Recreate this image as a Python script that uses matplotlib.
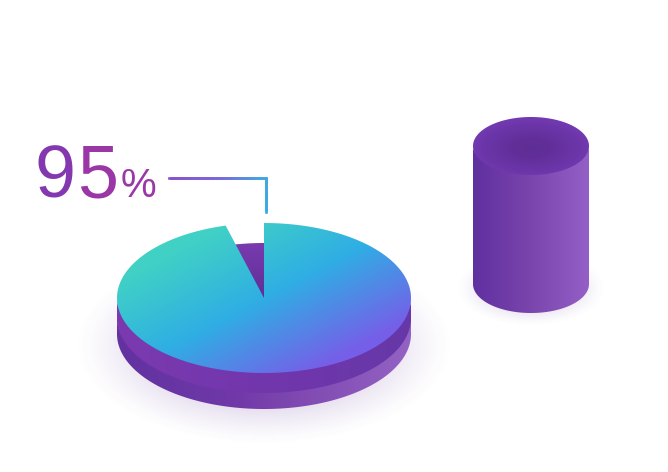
import numpy as np
import matplotlib
matplotlib.use("Agg")
import matplotlib.pyplot as plt
from matplotlib.collections import LineCollection
from matplotlib.colors import to_rgb
from matplotlib.patches import Polygon

# values
pie_label = "95"
pie_suffix = "%"
gap_share = 4.2          # the notch as drawn is a bit narrower than 5%

PIE_X, PIE_Y, PIE_RX, PIE_RY = 264, 298, 147, 75
LAYER_1, LAYER_2 = 20, 36
CYL_X, CYL_Y, CYL_RX, CYL_RY, CYL_H = 531, 146, 58, 29, 138

TOP_STOPS = [(0.0, "#45D8BE"), (0.2, "#40D0C6"), (0.5, "#2FAEE4"), (0.82, "#7560E8"), (1.0, "#7C55EA")]
BAND_STOPS = [(0.0, "#7B3AB0"), (0.5, "#7236AC"), (1.0, "#6638A8")]
BASE_STOPS = [(0.0, "#6232A0"), (0.4, "#7038A8"), (0.6, "#7E48B0"), (1.0, "#9462C4")]
NOTCH_STOPS = [(0.0, "#7A3AB0"), (0.4, "#5C2E92"), (1.0, "#5C2E92")]
CYL_STOPS = [(0.0, "#6030A0"), (0.5, "#7A45AC"), (1.0, "#945FC6")]
CAP_STOPS = [(0.0, "#5E2E94"), (0.35, "#622F9A"), (0.85, "#6C36AA"), (1.0, "#7239B0")]
LINE_STOPS = [(0.0, "#8A50C8"), (0.4, "#7A68DC"), (0.72, "#45A4E0"), (1.0, "#35ACE2")]


def arc(cx, cy, rx, ry, t0, t1, n=240):
    t = np.radians(np.linspace(t0, t1, n))
    return np.column_stack([cx + rx * np.cos(t), cy - ry * np.sin(t)])


def ramp(t, stops):
    pos = [s[0] for s in stops]
    cols = np.array([to_rgb(s[1]) for s in stops])
    return np.stack([np.interp(t, pos, cols[:, i]) for i in range(3)], axis=-1)


def paint(ax, verts, stops, angle=0.0):
    # fill a polygon with a linear gradient, by an image clipped to it
    x0, y0 = verts.min(axis=0)
    x1, y1 = verts.max(axis=0)
    xs, ys = np.meshgrid(np.linspace(x0, x1, 400), np.linspace(y0, y1, 300))
    dx, dy = np.cos(np.radians(angle)), np.sin(np.radians(angle))
    t = xs * dx + ys * dy
    t = (t - t.min()) / (t.max() - t.min())
    im = ax.imshow(ramp(t, stops), extent=(x0, x1, y1, y0), aspect="auto",
                   interpolation="bilinear", zorder=ax.zcount)
    im.set_clip_path(Polygon(verts, closed=True, transform=ax.transData))
    ax.zcount += 1


def shadow(ax, cx, cy, rx, ry, strength, color="#6A3AA0"):
    xs, ys = np.meshgrid(np.arange(668) + 0.5, np.arange(472) + 0.5)
    d = np.sqrt(((xs - cx) / rx) ** 2 + ((ys - cy) / ry) ** 2)
    rgba = np.zeros((472, 668, 4))
    rgba[..., :3] = to_rgb(color)
    rgba[..., 3] = strength * np.clip(1 - d, 0, 1) ** 1.3
    ax.imshow(rgba, extent=(0, 668, 472, 0), aspect="auto", zorder=ax.zcount)
    ax.zcount += 1


fig = plt.figure(figsize=(6.68, 4.72), dpi=100, facecolor="white")
ax = fig.add_axes([0, 0, 1, 1])
ax.zcount = 1

# ── shadows ──────────────────────────────────────────────────────────────────
shadow(ax, PIE_X, 345, 190, 100, 0.60)
shadow(ax, CYL_X, 288, 75, 38, 0.45)

# ── pie base: dark floor seen through the notch, then two bands ──────────────
paint(ax, arc(PIE_X, PIE_Y + LAYER_1, PIE_RX, PIE_RY, 0, 360), NOTCH_STOPS, 90)
base = np.vstack([arc(PIE_X, PIE_Y + LAYER_1, PIE_RX, PIE_RY - 4, 180, 360),
                  arc(PIE_X, PIE_Y + LAYER_2, PIE_RX, PIE_RY, 360, 180)])
paint(ax, base, BASE_STOPS, 0)
band = np.vstack([arc(PIE_X, PIE_Y, PIE_RX, PIE_RY - 4, 180, 360),
                  arc(PIE_X, PIE_Y + LAYER_1, PIE_RX, PIE_RY, 360, 180)])
paint(ax, band, BAND_STOPS, 0)

# ── top face, starting at 12 o'clock and going clockwise ─────────────────────
gap_deg = 3.6 * gap_share
top = np.vstack([[[PIE_X, PIE_Y]],
                 arc(PIE_X, PIE_Y, PIE_RX, PIE_RY, 90, 90 + gap_deg - 360)])
paint(ax, top, TOP_STOPS, 62)

# ── leader line ──────────────────────────────────────────────────────────────
px = np.concatenate([np.linspace(169, 266, 60), np.full(20, 266)])
py = np.concatenate([np.full(60, 178), np.linspace(178, 212, 20)])
pts = np.column_stack([px, py])
segs = np.stack([pts[:-1], pts[1:]], axis=1)
line_cols = ramp(np.linspace(0, 1, len(segs)), LINE_STOPS)
ax.add_collection(LineCollection(segs, colors=line_cols, linewidths=1.9,
                                 capstyle="projecting", zorder=50))

# ── label ────────────────────────────────────────────────────────────────────
ax.text(34, 197, pie_label[0], fontsize=53, family="Liberation Sans",
        color="#8438B0", va="baseline", ha="left", zorder=60)
ax.text(77, 197, pie_label[1], fontsize=53, family="Liberation Sans",
        color="#9A36A6", va="baseline", ha="left", zorder=60)
ax.text(121, 197, pie_suffix, fontsize=29, family="Liberation Sans",
        color="#9A38A8", va="baseline", ha="left", zorder=60)

# ── cylinder ─────────────────────────────────────────────────────────────────
body = np.vstack([arc(CYL_X, CYL_Y, CYL_RX, CYL_RY - 4, 180, 360),
                  arc(CYL_X, CYL_Y + CYL_H, CYL_RX, CYL_RY, 360, 180)])
paint(ax, body, CYL_STOPS, 0)

xs, ys = np.meshgrid(np.linspace(CYL_X - CYL_RX, CYL_X + CYL_RX, 300),
                     np.linspace(CYL_Y - CYL_RY, CYL_Y + CYL_RY, 150))
d = np.sqrt(((xs - CYL_X) / CYL_RX) ** 2 + ((ys - CYL_Y - 2) / CYL_RY) ** 2)
cap = ax.imshow(ramp(d, CAP_STOPS),
                extent=(CYL_X - CYL_RX, CYL_X + CYL_RX, CYL_Y + CYL_RY, CYL_Y - CYL_RY),
                aspect="auto", zorder=ax.zcount)
cap.set_clip_path(Polygon(arc(CYL_X, CYL_Y, CYL_RX, CYL_RY, 0, 360), closed=True,
                          transform=ax.transData))

ax.set_xlim(0, 668)
ax.set_ylim(472, 0)
ax.axis("off")

plt.savefig("out.png", dpi=100, facecolor="white")
plt.close()
